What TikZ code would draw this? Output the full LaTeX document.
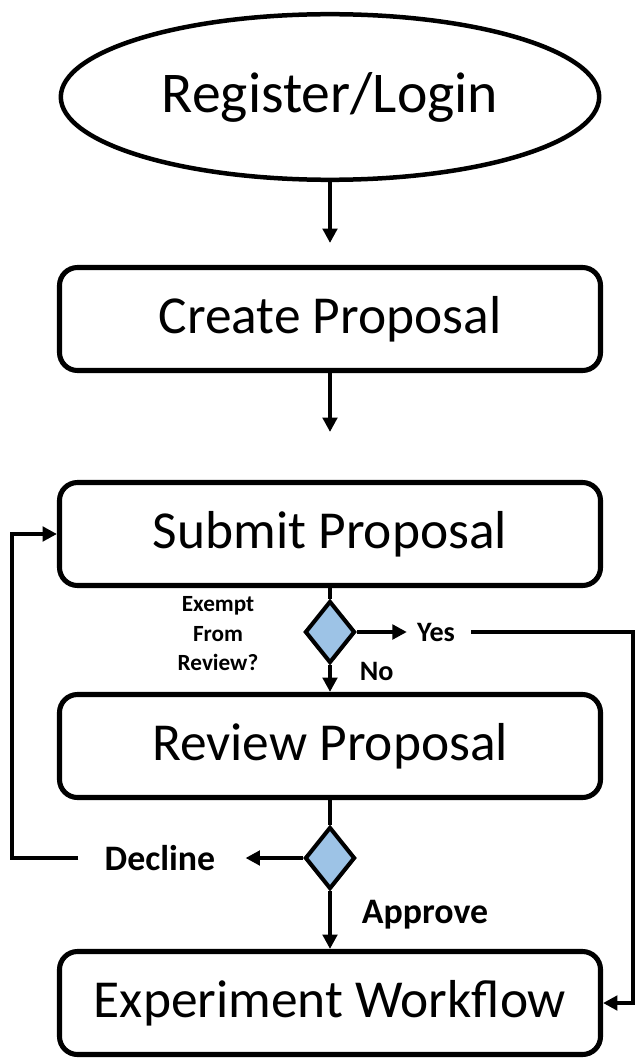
\documentclass[tikz,border=0pt]{standalone}
\usepackage{fontspec}
\setmainfont{Carlito}
\usepackage{tikz}
\usetikzlibrary{shapes.geometric,arrows.meta,positioning}
\definecolor{qblue}{RGB}{157,195,230}

\begin{document}
\begin{tikzpicture}
		\useasboundingbox (0,0) rectangle (15.925,-26.475);
		\begin{scope}
            [
                every node/.style={font=\fontsize{38}{46}\selectfont},
				startstop/.style = {ellipse, draw, line width=3.2pt, minimum width=13.46cm, minimum height=4.14cm, font=\fontsize{41}{49}\selectfont},
				process/.style = {rectangle, rounded corners=0.45cm, draw, line width=3.6pt, minimum width=13.525cm, minimum height=2.575cm},
				decision/.style = {diamond, draw, fill=qblue, line width=2.9pt, inner sep=0pt, minimum width=1.25cm, minimum height=1.55cm},
				smalltext/.style = {font=\bfseries\fontsize{16.5}{21}\selectfont, align=center},
				midtext/.style = {font=\bfseries\fontsize{20}{24}\selectfont, inner sep=0.25cm}
            ]
            
			\node(reg)[startstop] at (8.25,-2.425) {Register/Login};
			\node(crt)[process] at (8.25,-7.975) {Create Proposal};
			\node(sub)[process] at (8.25,-13.35) {Submit Proposal};
			\node(dia1)[decision] at (8.25,-15.8) {};
			\node(rev)[process] at (8.25,-18.65) {Review Proposal};
			\node(dia2)[decision] at (8.25,-21.45) {};
			\node(exp)[process] at (8.25,-25.075) {Experiment Workflow};

			\node(exm)[smalltext] at (5.45,-15.85) {Exempt\\From\\Review?};
			\node(yes)[midtext] at (10.9,-15.8) {Yes};
			\node(dec)[font=\bfseries\fontsize{25.5}{30}\selectfont, inner sep=0.25cm] at (4.0,-21.45) {Decline};

			\coordinate(lft) at (0.3,-21.45);
			\coordinate(rgt) at (15.825,-15.8);
		\end{scope}
		\begin{scope}
            [>={Triangle[length=0.36cm,width=0.36cm]},
                every edge/.style={draw=black, line width=2.6pt},
				midtext/.style = {font=\bfseries\fontsize{20}{24}\selectfont, inner sep=0.25cm},
				bigtext/.style = {font=\bfseries\fontsize{25.5}{30}\selectfont, inner sep=0.25cm}
            ]
            \path 
            (reg) edge[->, shorten >=0.55cm]  (crt)
            (crt) edge[->, shorten >=1.2cm]   (sub)
			(sub) edge                        (dia1)
			(dia1) edge[->]  node[midtext, right=0.45cm, pos=0.25]{No} (rev)
			(dia1) edge[->]                   (yes)
			(rev) edge                        (dia2)
			(dia2) edge[->]  node[bigtext, right=0.5cm, pos=0.4]{Approve} (exp)
			(dia2) edge[->, shorten >=0.5cm]  (dec);
			\draw[->, line width=2.6pt, shorten <=0.4cm] (dec.west) -- (dec.west -| lft) |- (sub.west);
			\draw[->, line width=2.6pt, shorten <=0.15cm] (yes.east) -- (yes.east -| rgt) |- (exp.east);
		\end{scope}
    \end{tikzpicture}
\end{document}
